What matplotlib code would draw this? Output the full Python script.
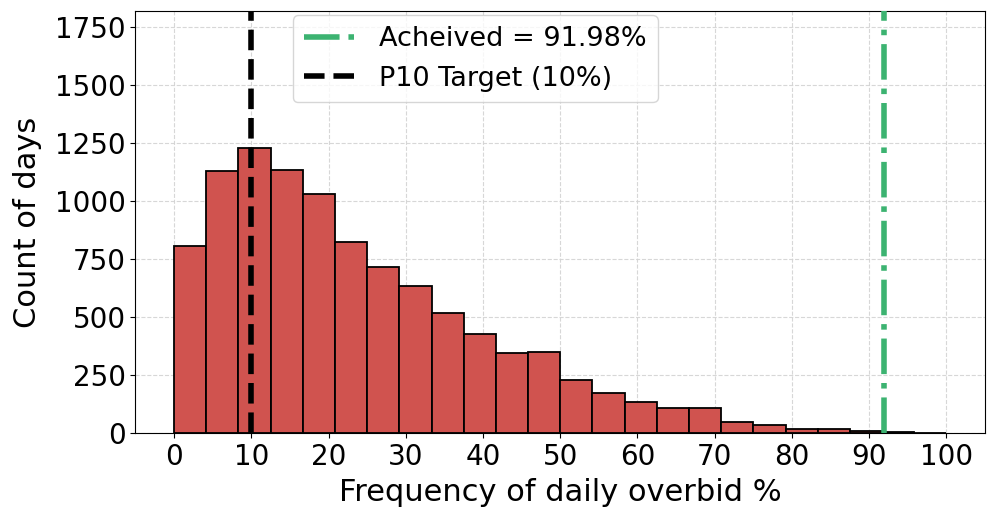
import numpy as np
import matplotlib.pyplot as plt

# histogram counts, 24 bins over 0-100
bin_edges = np.linspace(0, 100, 25)
counts = [805, 1130, 1229, 1136, 1029, 824, 718, 634, 518, 428, 344, 350,
          227, 172, 133, 110, 107, 46, 35, 16, 19, 10, 3, 0]
achieved = 91.98
target = 10

fig, ax = plt.subplots(figsize=(9.96, 5.2), dpi=100)

centers = (bin_edges[:-1] + bin_edges[1:]) / 2
ax.hist(centers, bins=bin_edges, weights=counts, color='#d0534f',
        edgecolor='black', linewidth=1.3, zorder=2)

ax.axvline(achieved, color='mediumseagreen', linestyle='-.', linewidth=4,
           label=f'Acheived = {achieved:.2f}%', zorder=3)
ax.axvline(target, color='black', linestyle='--', linewidth=4,
           label='P10 Target (10%)', zorder=3)

ax.set_xticks(np.arange(0, 101, 10))
ax.set_yticks(np.arange(0, 1751, 250))
ax.set_ylim(0, 1820)
ax.grid(True, linestyle='--', color='lightgray', alpha=0.9, zorder=0)
ax.set_axisbelow(True)
ax.tick_params(labelsize=20)
ax.set_xlabel('Frequency of daily overbid %', fontsize=22, labelpad=5)
ax.set_ylabel('Count of days', fontsize=22, labelpad=9)
ax.legend(fontsize=19.5, loc='upper center', bbox_to_anchor=(0.4, 1.022))

fig.subplots_adjust(left=0.136, right=0.989, top=0.979, bottom=0.167)
fig.savefig('out.png')
